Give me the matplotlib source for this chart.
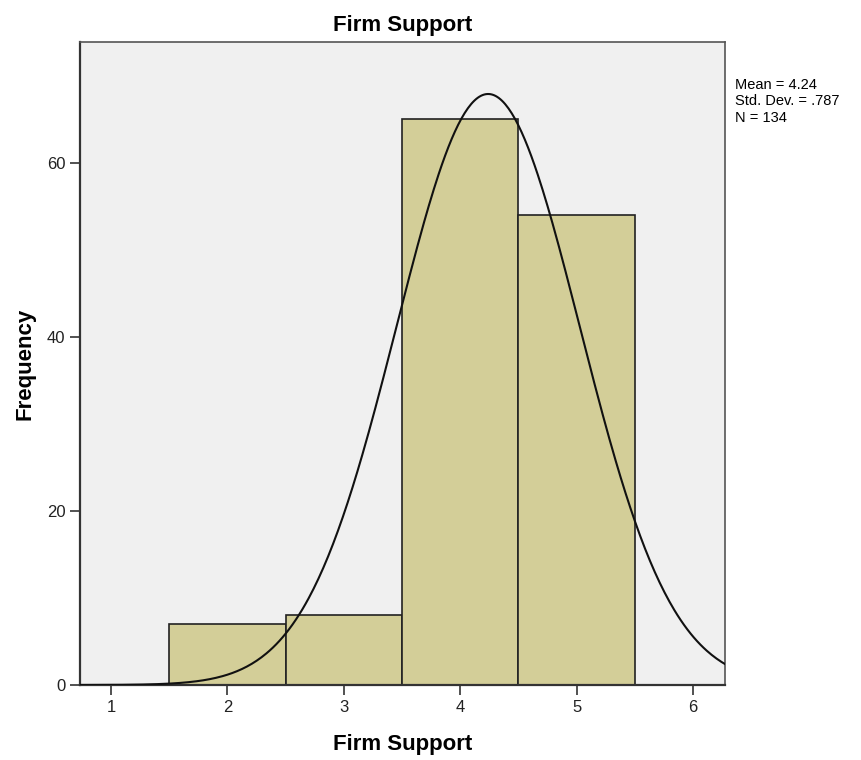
import numpy as np
import matplotlib.pyplot as plt

plt.rcParams['font.family'] = ['Liberation Sans', 'DejaVu Sans']

# histogram bins (bin width 1) and counts
bin_edges = [1.5, 2.5, 3.5, 4.5, 5.5]
counts = [7, 8, 65, 54]
mean = 4.24
std_dev = 0.787
n_total = 134

fig = plt.figure(figsize=(8.62, 7.6), dpi=100)
ax = fig.add_axes([0.0928, 0.0987, 0.7483, 0.846])
ax.set_facecolor('#f0f0f0')

ax.hist(bin_edges[:-1], bins=bin_edges, weights=counts,
        color='#d3ce98', edgecolor='#222222', linewidth=1.2, zorder=2)

# normal curve scaled to counts
x = np.linspace(0.73, 6.3, 400)
bw = bin_edges[1] - bin_edges[0]
y = n_total * bw / (std_dev * np.sqrt(2 * np.pi)) * np.exp(-0.5 * ((x - mean) / std_dev) ** 2)
ax.plot(x, y, color='#111111', linewidth=1.5, zorder=3)

ax.set_xlim(0.734, 6.275)
ax.set_ylim(0, 73.9)
ax.set_xticks([1, 2, 3, 4, 5, 6])
ax.set_yticks([0, 20, 40, 60])
ax.tick_params(axis='both', labelsize=12, color='#333333', labelcolor='#222222',
               length=7, width=1.2)

for side in ['left', 'bottom']:
    ax.spines[side].set_linewidth(1.6)
    ax.spines[side].set_color('#333333')
for side in ['top', 'right']:
    ax.spines[side].set_linewidth(1.2)
    ax.spines[side].set_color('#555555')

ax.set_title('Firm Support', fontsize=16, fontweight='bold', pad=8)
ax.set_xlabel('Firm Support', fontsize=16, fontweight='bold', labelpad=14)
ax.set_ylabel('Frequency', fontsize=16, fontweight='bold', labelpad=8)

fig.text(0.853, 0.897, f'Mean = {mean:.2f}\nStd. Dev. = .787\nN = {n_total}',
         fontsize=10.5, va='top', ha='left', linespacing=1.2)

fig.savefig('out.png', dpi=100)
